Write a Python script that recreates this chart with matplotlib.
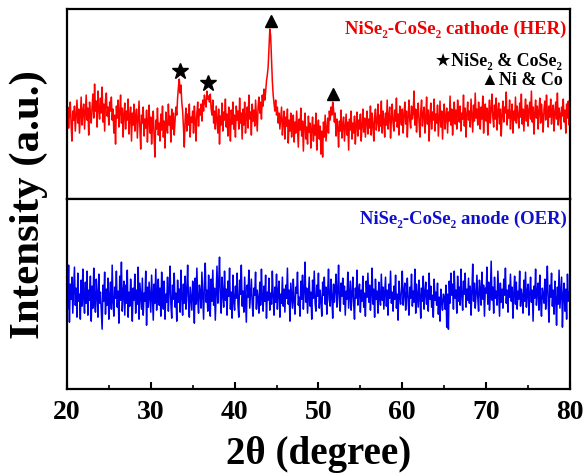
import numpy as np
import matplotlib.pyplot as plt
from matplotlib.ticker import MultipleLocator

plt.rcParams['font.family'] = ['Liberation Serif', 'DejaVu Sans']
plt.rcParams['font.weight'] = 'bold'

# cathode (HER) trace, one row per degree, 0.1 degree step
her = [
    80, 92, 71, 86, 97, 74, 58, 88, 79, 93,       # 20
    68, 84, 99, 76, 90, 66, 83, 102, 74, 88,      # 21
    95, 70, 86, 104, 79, 91, 64, 97, 84, 76,      # 22
    92, 105, 81, 115, 88, 98, 72, 108, 90, 80,    # 23
    101, 86, 112, 77, 95, 68, 99, 106, 83, 92,    # 24
    74, 97, 88, 102, 79, 90, 66, 84, 55, 93,      # 25
    81, 99, 72, 87, 104, 76, 91, 62, 85, 96,      # 26
    70, 88, 79, 100, 65, 83, 92, 58, 86, 74,      # 27
    95, 68, 82, 90, 61, 79, 98, 72, 50, 84,       # 28
    76, 92, 63, 80, 71, 89, 57, 77, 94, 66,       # 29
    82, 55, 73, 88, 61, 42, 79, 70, 91, 64,       # 30
    76, 58, 85, 69, 93, 62, 78, 51, 87, 72,       # 31
    66, 95, 74, 83, 57, 90, 70, 86, 64, 79,       # 32
    92, 84, 101, 112, 120, 106, 114, 97, 88, 72,  # 33
    52, 80, 91, 68, 85, 74, 95, 62, 82, 77,       # 34
    88, 66, 93, 79, 58, 86, 97, 73, 90, 84,       # 35
    95, 78, 99, 88, 104, 96, 92, 108, 100, 103,   # 36
    97, 105, 90, 84, 99, 76, 88, 70, 93, 80,      # 37
    66, 90, 55, 83, 74, 96, 68, 87, 79, 100,      # 38
    72, 85, 63, 92, 78, 58, 89, 75, 97, 70,       # 39
    84, 62, 93, 79, 88, 70, 101, 76, 86, 60,      # 40
    90, 74, 97, 66, 83, 92, 71, 104, 80, 87,      # 41
    64, 95, 78, 89, 73, 99, 84, 68, 92, 102,      # 42
    86, 97, 80, 104, 93, 110, 99, 107, 118, 124,  # 43
    132, 152, 170, 163, 140, 118, 104, 96, 88, 99,  # 44
    84, 92, 76, 86, 70, 81, 92, 64, 78, 88,       # 45
    60, 82, 73, 90, 56, 79, 68, 86, 62, 75,       # 46
    84, 57, 77, 66, 88, 71, 52, 80, 69, 91,       # 47
    63, 78, 48, 74, 86, 60, 72, 55, 83, 67,       # 48
    76, 51, 70, 82, 58, 74, 64, 86, 49, 71,       # 49
    79, 60, 73, 45, 68, 42, 77, 62, 84, 58,       # 50
    70, 81, 66, 88, 79, 92, 84, 97, 90, 77,       # 51
    86, 63, 80, 72, 52, 78, 68, 89, 61, 74,       # 52
    82, 58, 71, 85, 64, 77, 49, 80, 69, 88,       # 53
    60, 76, 66, 83, 55, 74, 87, 63, 79, 70,       # 54
    85, 58, 73, 90, 67, 81, 62, 78, 88, 65,       # 55
    80, 71, 93, 64, 86, 75, 58, 82, 90, 69,       # 56
    77, 95, 68, 84, 73, 98, 66, 88, 79, 62,       # 57
    86, 74, 99, 70, 83, 92, 61, 80, 95, 76,       # 58
    68, 89, 78, 101, 72, 85, 64, 93, 80, 74,      # 59
    90, 66, 84, 97, 75, 88, 62, 82, 99, 78,       # 60
    71, 93, 80, 86, 108, 74, 90, 67, 84, 96,      # 61
    77, 62, 88, 99, 73, 85, 92, 66, 81, 102,      # 62
    75, 89, 58, 83, 96, 70, 87, 79, 100, 68,      # 63
    85, 76, 94, 63, 81, 98, 72, 88, 60, 84,       # 64
    95, 70, 83, 91, 66, 87, 78, 103, 74, 90,      # 65
    64, 82, 97, 75, 89, 70, 99, 84, 77, 93,       # 66
    68, 86, 80, 104, 73, 91, 62, 85, 97, 79,      # 67
    88, 72, 100, 83, 67, 94, 78, 106, 81, 90,     # 68
    74, 97, 86, 70, 92, 80, 103, 66, 88, 95,      # 69
    78, 91, 64, 85, 99, 76, 89, 105, 82, 72,      # 70
    94, 80, 101, 69, 87, 96, 75, 90, 63, 84,      # 71
    98, 77, 92, 86, 107, 74, 89, 81, 99, 70,      # 72
    85, 95, 66, 88, 79, 102, 76, 93, 84, 71,      # 73
    96, 82, 105, 75, 90, 68, 87, 100, 78, 94,     # 74
    73, 89, 97, 80, 108, 77, 92, 65, 86, 99,      # 75
    81, 93, 70, 88, 101, 76, 95, 84, 67, 90,      # 76
    98, 79, 104, 86, 72, 93, 82, 100, 75, 89,     # 77
    94, 68, 87, 97, 80, 106, 74, 91, 85, 70,      # 78
    92, 83, 100, 77, 89, 66, 95, 81, 98, 74,      # 79
    86,                                           # 80
]

# anode (OER) trace
oer = [
    118, 80, 124, 67, 105, 90, 112, 76, 98, 122,  # 20
    84, 101, 72, 116, 88, 95, 70, 109, 83, 120,   # 21
    92, 76, 107, 86, 118, 74, 99, 89, 113, 68,    # 22
    103, 81, 121, 90, 77, 110, 94, 72, 115, 86,   # 23
    97, 79, 60, 104, 88, 117, 75, 100, 84, 111,   # 24
    70, 93, 107, 80, 124, 87, 73, 102, 91, 118,   # 25
    82, 98, 66, 113, 89, 127, 78, 95, 108, 74,    # 26
    104, 86, 119, 72, 97, 83, 110, 92, 68, 101,   # 27
    89, 115, 76, 99, 85, 122, 70, 106, 93, 80,    # 28
    111, 74, 96, 88, 118, 64, 102, 82, 107, 91,   # 29
    77, 114, 90, 69, 105, 86, 120, 79, 98, 110,   # 30
    84, 101, 73, 117, 92, 80, 108, 70, 95, 87,    # 31
    112, 78, 99, 123, 85, 71, 104, 90, 116, 82,   # 32
    96, 68, 109, 87, 100, 77, 119, 93, 74, 105,   # 33
    86, 113, 80, 97, 124, 88, 72, 102, 91, 79,    # 34
    108, 94, 66, 111, 85, 121, 90, 76, 104, 97,   # 35
    81, 117, 93, 70, 106, 126, 87, 99, 78, 114,   # 36
    92, 73, 110, 88, 119, 84, 101, 69, 96, 123,   # 37
    86, 105, 132, 90, 76, 112, 95, 82, 118, 89,   # 38
    100, 74, 108, 93, 121, 80, 97, 71, 114, 88,   # 39
    79, 103, 91, 116, 85, 72, 109, 95, 124, 83,   # 40
    98, 77, 112, 88, 67, 104, 92, 119, 81, 96,    # 41
    110, 86, 73, 101, 94, 117, 80, 99, 90, 76,    # 42
    107, 84, 120, 92, 78, 103, 88, 114, 71, 97,   # 43
    89, 111, 79, 96, 85, 118, 93, 74, 102, 87,    # 44
    115, 80, 98, 108, 72, 95, 86, 112, 83, 100,   # 45
    77, 104, 91, 121, 85, 99, 68, 106, 94, 81,    # 46
    110, 88, 75, 102, 96, 117, 84, 92, 73, 108,   # 47
    90, 114, 80, 98, 127, 87, 101, 76, 95, 112,   # 48
    83, 97, 70, 109, 91, 118, 86, 78, 104, 93,    # 49
    116, 81, 99, 88, 73, 107, 94, 112, 85, 102,   # 50
    75, 96, 120, 89, 83, 110, 92, 71, 105, 87,    # 51
    100, 115, 82, 97, 124, 88, 78, 106, 93, 111,  # 52
    85, 103, 74, 98, 90, 117, 81, 95, 108, 79,    # 53
    94, 112, 86, 70, 101, 91, 119, 84, 97, 105,   # 54
    77, 99, 88, 113, 82, 96, 73, 108, 92, 116,    # 55
    87, 104, 79, 95, 121, 85, 100, 72, 110, 90,   # 56
    98, 76, 107, 93, 84, 115, 89, 102, 80, 96,    # 57
    112, 83, 99, 74, 105, 91, 118, 86, 97, 78,    # 58
    103, 90, 114, 81, 95, 69, 108, 92, 85, 100,   # 59
    118, 84, 97, 106, 79, 93, 111, 88, 74, 102,   # 60
    91, 115, 83, 98, 87, 120, 76, 105, 94, 82,    # 61
    109, 93, 71, 101, 88, 113, 80, 96, 107, 85,   # 62
    99, 78, 116, 90, 103, 82, 94, 72, 110, 89,    # 63
    97, 84, 106, 75, 92, 68, 100, 87, 79, 95,     # 64
    92, 80, 104, 62, 95, 60, 108, 86, 116, 94,    # 65
    105, 80, 118, 91, 99, 76, 113, 88, 102, 84,   # 66
    120, 93, 79, 108, 95, 116, 82, 100, 89, 111,  # 67
    86, 103, 74, 97, 125, 88, 106, 81, 95, 114,   # 68
    92, 78, 109, 99, 84, 117, 90, 104, 73, 101,   # 69
    96, 122, 85, 107, 79, 93, 128, 89, 102, 76,   # 70
    112, 91, 98, 84, 118, 95, 73, 106, 87, 100,   # 71
    81, 110, 94, 121, 86, 99, 77, 104, 92, 115,   # 72
    88, 102, 71, 96, 113, 85, 107, 80, 98, 90,    # 73
    118, 83, 100, 93, 76, 109, 88, 117, 82, 97,   # 74
    105, 74, 95, 112, 87, 99, 68, 103, 91, 120,   # 75
    84, 98, 106, 79, 114, 90, 73, 101, 95, 86,    # 76
    110, 80, 97, 123, 88, 67, 104, 92, 116, 83,   # 77
    99, 75, 108, 90, 64, 102, 85, 119, 81, 96,    # 78
    112, 62, 94, 106, 78, 100, 70, 115, 88, 97,   # 79
    92,                                           # 80
]

# 2theta grid, 0.1 degree step
two_theta = np.linspace(20, 80, 601)

# peak markers (position, height)
star_x = [33.5, 36.8]
star_y = [128, 116]
tri_x = [44.3, 51.7]
tri_y = [178, 105]

fig = plt.figure(figsize=(5.87, 4.77), dpi=100)
gs = fig.add_gridspec(2, 1, left=0.114, right=0.971, top=0.979, bottom=0.182, hspace=0)
ax1 = fig.add_subplot(gs[0])
ax2 = fig.add_subplot(gs[1], sharex=ax1)

ax1.plot(two_theta, her, color='#ff0000', lw=1.1)
ax1.plot(star_x, star_y, ls='none', marker='*', color='black', ms=12)
ax1.plot(tri_x, tri_y, ls='none', marker='^', color='black', ms=9)
ax2.plot(two_theta, oer, color='#0000ee', lw=1.1)

for ax in (ax1, ax2):
    ax.set_ylim(0, 190)
    ax.set_yticks([])
    for s in ax.spines.values():
        s.set_linewidth(1.6)

ax1.set_xlim(20, 80)
ax1.tick_params(axis='x', which='both', bottom=False, labelbottom=False)
ax2.xaxis.set_major_locator(MultipleLocator(10))
ax2.xaxis.set_minor_locator(MultipleLocator(5))
ax2.tick_params(axis='x', which='major', direction='in', length=5, width=1.5, labelsize=20, pad=7)
ax2.tick_params(axis='x', which='minor', direction='in', length=3, width=1.2)
for lab in ax2.get_xticklabels():
    lab.set_fontweight('bold')

ax2.set_xlabel('2θ (degree)', fontsize=28, fontweight='bold', labelpad=8)
fig.text(0.049, 0.572, 'Intensity (a.u.)', rotation=90, ha='center', va='center',
         fontsize=31, fontweight='bold')

ax1.text(0.993, 0.90, 'NiSe₂-CoSe₂ cathode (HER)', transform=ax1.transAxes,
         ha='right', va='center', color='#ee0000', fontsize=13.5, fontweight='bold')
ax1.text(0.985, 0.73, '★NiSe₂ & CoSe₂', transform=ax1.transAxes,
         ha='right', va='center', color='black', fontsize=13, fontweight='bold')
ax1.text(0.985, 0.63, '▲Ni & Co', transform=ax1.transAxes,
         ha='right', va='center', color='black', fontsize=13, fontweight='bold')
ax2.text(0.993, 0.90, 'NiSe₂-CoSe₂ anode (OER)', transform=ax2.transAxes,
         ha='right', va='center', color='#1010cc', fontsize=13.5, fontweight='bold')

plt.savefig('out.png', dpi=100)
